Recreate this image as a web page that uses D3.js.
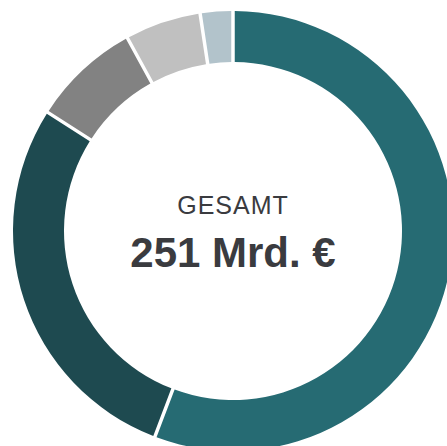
<!DOCTYPE html>
<html>
<head>
<meta charset="utf-8">
<script src="https://cdn.jsdelivr.net/npm/d3@7"></script>
<style>
  html, body { margin: 0; padding: 0; background: #fff; overflow: hidden; }
  svg { display: block; font-family: "Liberation Sans", Arial, sans-serif; }
</style>
</head>
<body>
<svg id="chart"></svg>
<script>
const categories = ["Segment A", "Segment B", "Segment C", "Segment D", "Segment E"];
const values = [140, 71, 20, 14, 6];
const colors = ["#266b73", "#1e4a50", "#828282", "#c0c0c0", "#b2c3cb"];

const totalLabel = "GESAMT";
const totalValue = "251 Mrd. €";

const width = 447;
const height = 446;
const cx = 233, cy = 231;
const outerR = 220, innerR = 169;

const svg = d3.select('#chart')
    .attr('width', width)
    .attr('height', height);

const g = svg.append('g')
    .attr('transform', 'translate(' + cx + ',' + cy + ')');

const pie = d3.pie()
  .sort(null)
  .value(d => d.value);

const arc = d3.arc()
  .innerRadius(innerR)
  .outerRadius(outerR)
  .padAngle(3.5 / outerR)
  .padRadius(outerR);

const data = categories.map((c, i) => ({ name: c, value: values[i], color: colors[i] }));

g.selectAll('.slice')
  .data(pie(data))
  .enter().append('path')
    .attr('class', 'slice')
    .attr('d', arc)
    .attr('fill', d => d.data.color);

g.append('text')
  .attr('x', 0)
  .attr('y', -17)
  .style('text-anchor', 'middle')
  .style('font-size', '25px')
  .style('letter-spacing', '1px')
  .style('fill', '#3a3b3f')
  .text(totalLabel);

g.append('text')
  .attr('x', 0)
  .attr('y', 36)
  .style('text-anchor', 'middle')
  .style('font-size', '42px')
  .style('font-weight', 'bold')
  .style('fill', '#3a3b3f')
  .text(totalValue);
</script>
</body>
</html>
